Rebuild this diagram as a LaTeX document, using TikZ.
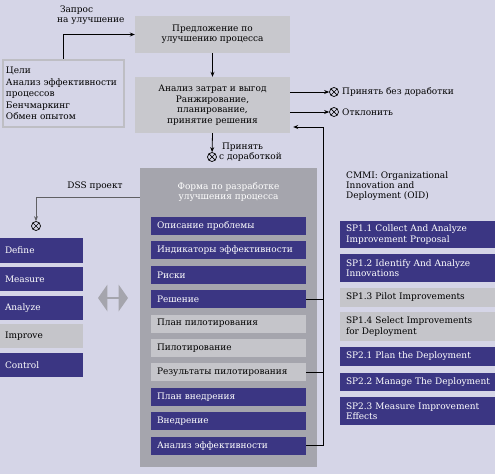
\documentclass[tikz,border=0pt]{standalone}
\usepackage{fontspec}
\setmainfont{DejaVu Serif}
\usetikzlibrary{arrows.meta,shapes.arrows}
\definecolor{bgcolor}{RGB}{213,213,231}
\definecolor{navy}{RGB}{59,54,131}
\definecolor{lightitem}{RGB}{197,197,202}
\definecolor{boxgray}{RGB}{200,200,205}
\definecolor{formgray}{RGB}{165,165,173}
\definecolor{framegray}{RGB}{190,190,196}
\definecolor{dssline}{RGB}{96,96,100}
\begin{document}
\begin{tikzpicture}[
    x=1bp, y=-1bp,
    every node/.style={inner sep=0pt, font=\fontsize{9}{10.5}\selectfont},
    conn/.style={line width=0.8bp, -{Stealth[length=5bp,width=4bp]}},
    plain/.style={line width=0.8bp},
    stepbox/.style={fill=boxgray, align=center},
    darkitem/.style={fill=navy, text=white, text width=143bp, inner xsep=6bp, align=left},
    lightitem/.style={fill=lightitem, text=black, text width=143bp, inner xsep=6bp, align=left},
    phase/.style={text width=73bp, inner xsep=5bp, minimum height=24.5bp, align=left},
    otimes/.style={circle, draw, line width=0.7bp, minimum size=9bp,
        path picture={\draw[line width=0.7bp]
            (path picture bounding box.north west) -- (path picture bounding box.south east)
            (path picture bounding box.north east) -- (path picture bounding box.south west);}}
]
\fill[bgcolor] (0,0) rectangle (495,474);
\useasboundingbox (0,0) rectangle (495,474);

% upper part
\node[stepbox, minimum width=155bp, minimum height=37bp] (proposal) at (212.5,34.5)
    {Предложение по\\улучшению процесса};
\node[stepbox, minimum width=155bp, minimum height=56bp] (analysis) at (212.5,105)
    {Анализ затрат и выгод\\Ранжирование,\\планирование,\\принятие решения};
\node[draw=framegray, line width=2bp, fill=bgcolor, minimum width=121bp, minimum height=67bp,
    text width=115bp, align=left, font=\fontsize{9}{11.5}\selectfont] (goals) at (63.5,93.5)
    {Цели\\Анализ эффективности\\процессов\\Бенчмаркинг\\Обмен опытом};
\node[anchor=south west, align=left] (request) at (57,25) {\ Запрос\\на улучшение};

\draw[conn] (goals.north) |- (proposal.west);
\draw[conn] (proposal.south) -- (analysis.north);

\node[otimes] (accept) at (334,92) {};
\node[otimes] (reject) at (334,112) {};
\node[otimes] (revise) at (212,157) {};
\node[anchor=west] (acceptlabel) at (342,92) {Принять без доработки};
\node[anchor=west] (rejectlabel) at (342,112) {Отклонить};
\node[anchor=west, align=left] (reviselabel) at (219,152) {\ Принять\\с доработкой};

\draw[conn] (analysis.east |- accept) -- (accept);
\draw[conn] (analysis.east |- reject) -- (reject);
\draw[conn] (analysis.south) -- (revise);

% form
\node[fill=formgray, minimum width=177bp, minimum height=299bp] (form) at (228.5,317.5) {};
\node[text=white, align=center] (formtitle) at (228.5,192)
    {Форма по разработке\\улучшения процесса};
\node[darkitem, minimum height=18bp] (f1) at (228.5,226) {Описание проблемы};
\node[darkitem, minimum height=18bp] (f2) at (228.5,250.4) {Индикаторы эффективности};
\node[darkitem, minimum height=18bp] (f3) at (228.5,274.8) {Риски};
\node[darkitem, minimum height=18bp] (f4) at (228.5,299.2) {Решение};
\node[lightitem, minimum height=18bp] (f5) at (228.5,323.6) {План пилотирования};
\node[lightitem, minimum height=18bp] (f6) at (228.5,348) {Пилотирование};
\node[lightitem, minimum height=18bp] (f7) at (228.5,372.4) {Результаты пилотирования};
\node[darkitem, minimum height=18bp] (f8) at (228.5,396.8) {План внедрения};
\node[darkitem, minimum height=18bp] (f9) at (228.5,421.2) {Внедрение};
\node[darkitem, minimum height=18bp] (f10) at (228.5,445.6) {Анализ эффективности};

\coordinate (back) at (323,127);
\draw[conn] (f10.east) -| (back) -- ([xshift=3bp]analysis.east |- back);
\draw[plain] (f4.east) -- (f4.east -| back);
\draw[plain] (f7.east) -- (f7.east -| back);

% DMAIC
\node[otimes] (dss) at (36,226) {};
\node (dsslabel) at (95,186) {DSS проект};
\draw[conn, dssline] (form.west |- 0,197) -| (dss);

\node[darkitem, phase] (define) at (41.5,250.5) {Define};
\node[darkitem, phase] (measure) at (41.5,279) {Measure};
\node[darkitem, phase] (analyze) at (41.5,308) {Analyze};
\node[lightitem, phase] (improve) at (41.5,336) {Improve};
\node[darkitem, phase] (control) at (41.5,365) {Control};

\node[double arrow, fill=formgray, minimum width=27bp, minimum height=30bp,
    double arrow head extend=3bp, double arrow tip angle=110] (link) at (113,298) {};

% CMMI
\node[anchor=north west, align=left] (cmmi) at (346,171)
    {CMMI: Organizational\\Innovation and\\Deployment (OID)};
\node[darkitem, minimum height=27bp] (sp11) at (417.5,234.5) {SP1.1 Collect And Analyze\\Improvement Proposal};
\node[darkitem, minimum height=28bp] (sp12) at (417.5,268) {SP1.2 Identify And Analyze\\Innovations};
\node[lightitem, minimum height=19bp] (sp13) at (417.5,297.5) {SP1.3 Pilot Improvements};
\node[lightitem, minimum height=29bp] (sp14) at (417.5,326.5) {SP1.4 Select Improvements\\for Deployment};
\node[darkitem, minimum height=19bp] (sp21) at (417.5,356.5) {SP2.1 Plan the Deployment};
\node[darkitem, minimum height=18bp] (sp22) at (417.5,382) {\mbox{SP2.2 Manage The Deployment}};
\node[darkitem, minimum height=28bp] (sp23) at (417.5,411) {SP2.3 Measure Improvement\\Effects};
\end{tikzpicture}
\end{document}
